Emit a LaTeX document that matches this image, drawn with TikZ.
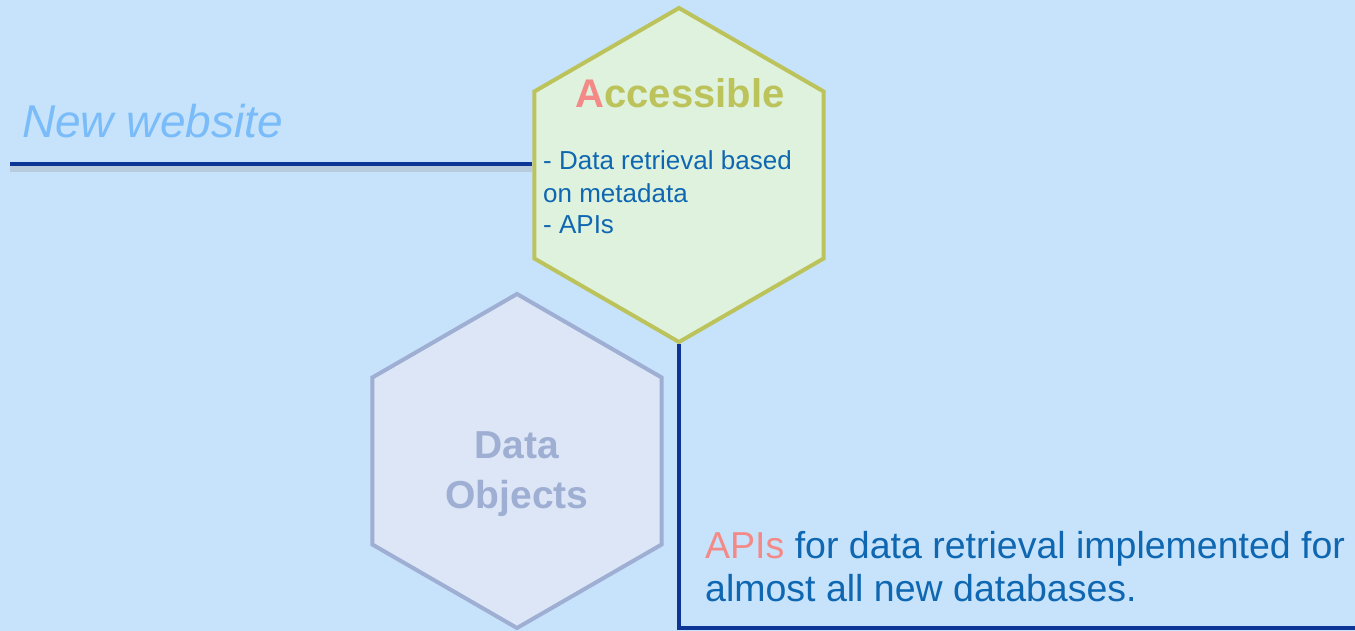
\documentclass[tikz,border=0pt]{standalone}
\usepackage{fontspec}
\setmainfont{Liberation Sans}
\usetikzlibrary{shapes.geometric}
\definecolor{bgblue}{HTML}{C6E3FB}
\definecolor{navy}{HTML}{0D3595}
\definecolor{lightblue}{HTML}{7ABCF9}
\definecolor{olive}{HTML}{BCC35A}
\definecolor{salmon}{HTML}{F48A87}
\definecolor{textblue}{HTML}{0F67B1}
\definecolor{lavender}{HTML}{9FAED3}
\definecolor{accfill}{HTML}{DFF2DE}
\definecolor{objfill}{HTML}{DCE6F6}
\tikzset{
  hexnode/.style={regular polygon, regular polygon sides=6, shape border rotate=30,
    minimum size=334pt, inner sep=0pt, line width=4pt},
  connector/.style={draw=navy, line width=4.5pt},
  shadowline/.style={draw=black!40, line width=6pt, opacity=0.3},
  txt/.style={inner sep=0pt, anchor=base west},
}
\begin{document}
\begin{tikzpicture}[x=1pt,y=-1pt]
\useasboundingbox (0,0) rectangle (1355,631);
\fill[bgblue] (0,0) rectangle (1355,631);

% hexagons
\node[hexnode, draw=lavender, fill=objfill] (obj) at (517,461) {};
\node[hexnode, draw=olive, fill=accfill] (acc) at (679,175) {};

% texts (multi-line nodes: base = last line's baseline)
\node[txt, text=lightblue, font=\fontsize{46}{55}\selectfont\itshape] (web) at (22,138) {New website};
\node[inner sep=0pt, anchor=base, font=\fontsize{40}{48}\selectfont\bfseries] (acctitle) at (680,108)
  {\textcolor{salmon}{A}\textcolor{olive}{ccessible}};
\node[txt, text=textblue, align=left, font=\fontsize{26}{32}\selectfont] (accbody) at (543,234)
  {- Data retrieval based\\on metadata\\- APIs};
\node[inner sep=0pt, anchor=base, align=center, text=lavender, font=\fontsize{39}{50}\selectfont\bfseries] (objtitle) at (517,508)
  {Data\\Objects};
\node[txt, text=textblue, align=left, font=\fontsize{37.5}{43}\selectfont] (apis) at (705,601)
  {\textcolor{salmon}{APIs} for data retrieval implemented for\\almost all new databases.};

% connectors
\coordinate (lstart) at (10,164);
\coordinate (rend) at (1355,628);
\draw[shadowline] ([yshift=-5pt]lstart) -- ([yshift=-5pt]lstart -| acc.west);
\draw[connector] (lstart) -- (lstart -| acc.west);
\draw[connector] (acc.south) -- (acc.south |- rend) -- (rend);
\end{tikzpicture}
\end{document}
